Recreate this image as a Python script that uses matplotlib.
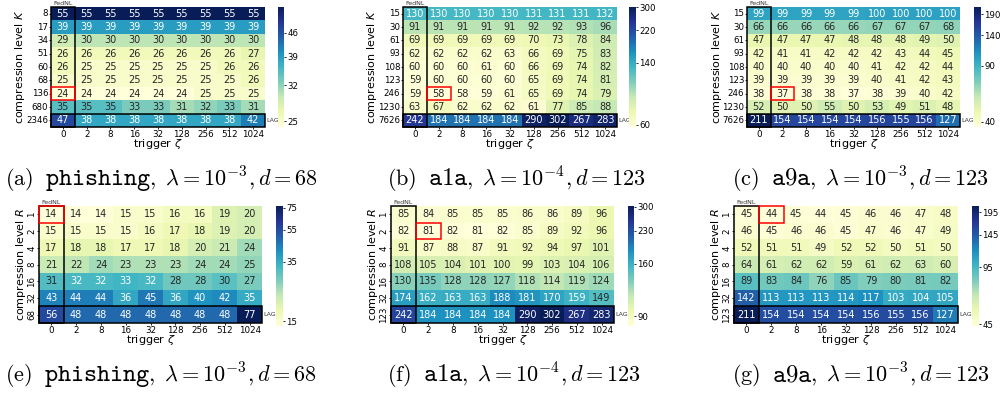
import numpy as np
import matplotlib
matplotlib.use("Agg")
import matplotlib.pyplot as plt
from matplotlib.colors import LogNorm
from matplotlib.patches import Rectangle
from matplotlib.ticker import FixedLocator, FixedFormatter, NullLocator
import seaborn as sns

triggers = ['0', '2', '8', '16', '32', '128', '256', '512', '1024']

K_a = ['8', '17', '34', '51', '60', '68', '136', '680', '2346']
vals_a = [
    [55, 55, 55, 55, 55, 55, 55, 55, 55],
    [39, 39, 39, 39, 39, 39, 39, 39, 39],
    [29, 30, 30, 30, 30, 30, 30, 30, 30],
    [26, 26, 26, 26, 26, 26, 26, 26, 27],
    [26, 25, 25, 25, 25, 25, 25, 26, 26],
    [25, 25, 25, 25, 25, 25, 25, 25, 26],
    [24, 24, 24, 24, 24, 24, 25, 25, 25],
    [35, 35, 35, 33, 33, 31, 32, 33, 31],
    [47, 38, 38, 38, 38, 38, 38, 38, 42],
]
cb_a = [25, 32, 39, 46]

K_b = ['15', '30', '61', '93', '108', '123', '246', '1230', '7626']
vals_b = [
    [130, 130, 130, 130, 130, 131, 131, 131, 132],
    [91, 91, 91, 91, 91, 92, 92, 93, 96],
    [69, 69, 69, 69, 69, 70, 73, 78, 84],
    [62, 62, 62, 62, 63, 66, 69, 75, 83],
    [60, 60, 60, 61, 60, 66, 69, 74, 82],
    [59, 60, 60, 60, 60, 65, 69, 74, 81],
    [59, 58, 58, 59, 61, 65, 69, 74, 79],
    [63, 67, 62, 62, 62, 61, 77, 85, 88],
    [242, 184, 184, 184, 184, 290, 302, 267, 283],
]
cb_b = [60, 140, 220, 300]

K_c = ['15', '30', '61', '93', '108', '123', '246', '1230', '7626']
vals_c = [
    [99, 99, 99, 99, 99, 100, 100, 100, 100],
    [66, 66, 66, 66, 66, 67, 67, 67, 68],
    [47, 47, 47, 47, 48, 48, 48, 49, 50],
    [42, 41, 41, 42, 42, 42, 43, 44, 45],
    [40, 40, 40, 40, 40, 41, 42, 42, 44],
    [39, 39, 39, 39, 39, 40, 41, 42, 43],
    [38, 37, 38, 38, 37, 38, 39, 40, 42],
    [52, 50, 50, 55, 50, 53, 49, 51, 48],
    [211, 154, 154, 154, 154, 156, 155, 156, 127],
]
cb_c = [40, 90, 140, 190]

R_e = ['1', '2', '4', '8', '16', '32', '68']
vals_e = [
    [14, 14, 14, 15, 15, 16, 16, 19, 20],
    [15, 15, 15, 15, 16, 17, 18, 19, 20],
    [17, 18, 18, 17, 17, 18, 20, 21, 24],
    [21, 22, 24, 23, 23, 23, 24, 24, 25],
    [31, 32, 32, 33, 32, 28, 28, 30, 27],
    [43, 44, 44, 36, 45, 36, 40, 42, 35],
    [56, 48, 48, 48, 48, 48, 48, 48, 77],
]
cb_e = [15, 35, 55, 75]

R_f = ['1', '2', '4', '8', '16', '32', '123']
vals_f = [
    [85, 84, 85, 85, 85, 86, 86, 89, 96],
    [82, 81, 82, 81, 82, 85, 89, 92, 96],
    [91, 87, 88, 87, 91, 92, 94, 97, 101],
    [108, 105, 104, 101, 100, 99, 103, 104, 106],
    [130, 135, 128, 128, 127, 118, 114, 119, 124],
    [174, 162, 163, 163, 188, 181, 170, 159, 149],
    [242, 184, 184, 184, 184, 290, 302, 267, 283],
]
cb_f = [90, 160, 230, 300]

R_g = ['1', '2', '4', '8', '16', '32', '123']
vals_g = [
    [45, 44, 45, 44, 45, 46, 46, 47, 48],
    [46, 45, 46, 46, 45, 47, 46, 47, 49],
    [52, 51, 51, 49, 52, 52, 50, 51, 50],
    [64, 61, 62, 62, 59, 61, 62, 63, 60],
    [89, 83, 84, 76, 85, 79, 80, 81, 82],
    [142, 113, 113, 113, 114, 117, 103, 104, 105],
    [211, 154, 154, 154, 154, 156, 155, 156, 127],
]
cb_g = [45, 95, 145, 195]

cap_letters = ['(a)', '(b)', '(c)', '(e)', '(f)', '(g)']
cap_data = ['phishing', 'a1a', 'a9a', 'phishing', 'a1a', 'a9a']
cap_rest = [
    r"$,\ \lambda = 10^{-3}, d = 68$",
    r"$,\ \lambda = 10^{-4}, d = 123$",
    r"$,\ \lambda = 10^{-3}, d = 123$",
    r"$,\ \lambda = 10^{-3}, d = 68$",
    r"$,\ \lambda = 10^{-4}, d = 123$",
    r"$,\ \lambda = 10^{-3}, d = 123$",
]

W, H = 1000, 396
fig = plt.figure(figsize=(W / 100, H / 100), dpi=100)
renderer = fig.canvas.get_renderer()


def frac(x0, x1, y0, y1):
    return [x0 / W, 1 - y1 / H, (x1 - x0) / W, (y1 - y0) / H]


panels = [
    (vals_a, K_a, cb_a, r"compression level $K$", False, (51, 265, 7, 127), (278, 284, 7, 127), 20),
    (vals_b, K_b, cb_b, r"compression level $K$", False, (403, 617, 7, 127), (629, 636, 7, 127), 372),
    (vals_c, K_c, cb_c, r"compression level $K$", False, (747, 960, 7, 127), (974, 981, 7, 127), 717),
    (vals_e, R_e, cb_e, r"compression level $R$", True, (39, 262, 206, 323), (276, 283, 206, 326), 21),
    (vals_f, R_f, cb_f, r"compression level $R$", True, (391, 614, 206, 323), (628, 634, 206, 326), 373),
    (vals_g, R_g, cb_g, r"compression level $R$", True, (734, 958, 206, 323), (972, 979, 206, 326), 716),
]
cap_pos = [(5, 185), (387, 185), (732, 185), (5, 381), (387, 381), (732, 381)]

for idx, (vals, ylabels, cbt, ylab, rot, axp, cbp, ylx_px) in enumerate(panels):
    data = np.array(vals, dtype=float)
    ax = fig.add_axes(frac(*axp))
    cax = fig.add_axes(frac(*cbp))
    norm = LogNorm(vmin=data.min(), vmax=data.max())
    sns.heatmap(data, ax=ax, cbar_ax=cax, cmap="YlGnBu", norm=norm,
                annot=True, fmt=".0f", annot_kws={"fontsize": 7},
                xticklabels=triggers, yticklabels=ylabels)
    n, m = data.shape
    axw = axp[1] - axp[0]
    axh = axp[3] - axp[2]
    ax.tick_params(axis='both', length=1.5, width=0.6, pad=0.6, labelsize=6.3)
    ax.set_yticklabels(ylabels, rotation=90 if rot else 0, va='center', fontsize=6.2)
    ax.set_xticklabels(triggers, rotation=0, fontsize=6.3)
    ax.set_xlabel(r"trigger $\zeta$", fontsize=8)
    ax.set_ylabel(ylab, fontsize=8)
    ax.yaxis.label.set_va('center')
    ax.xaxis.label.set_va('center')
    ax.yaxis.set_label_coords((ylx_px - axp[0]) / axw, 0.5)
    ax.xaxis.set_label_coords(0.5, -17.0 / axh)
    # highlight boxes
    ax.add_patch(Rectangle((0, 0), 1, n, fill=False, ec='black', lw=1.1, clip_on=False))
    ax.add_patch(Rectangle((0, n - 1), m, 1, fill=False, ec='black', lw=1.1, clip_on=False))
    bi, bj = np.unravel_index(np.argmin(data), data.shape)
    ax.add_patch(Rectangle((bj, bi), 1, 1, fill=False, ec='red', lw=1.1, clip_on=False, zorder=5))
    ax.text(0.5, -0.08, "FedNL", ha='center', va='bottom', fontsize=4.5, color='#333333')
    ax.text(m + 0.05, n - 0.5, "LAG", ha='left', va='center', fontsize=4.5, color='#333333')
    # colorbar
    cax.yaxis.set_minor_locator(NullLocator())
    cax.yaxis.set_major_locator(FixedLocator(cbt))
    cax.yaxis.set_major_formatter(FixedFormatter([str(t) for t in cbt]))
    cax.tick_params(axis='y', length=1.5, width=0.6, pad=0.8, labelsize=6.2)
    cax.yaxis.set_minor_locator(NullLocator())
    # caption built from pieces
    cx, cy = cap_pos[idx]
    pieces = [(r"$\mathrm{" + cap_letters[idx] + "}$", 16, 12),
              (r"$\mathtt{" + cap_data[idx] + "}$", 18, -3),
              (cap_rest[idx], 16, 0)]
    x = cx
    for s, fs, gap in pieces:
        t = fig.text(x / W, 1 - cy / H, s, ha='left', va='baseline',
                     fontsize=fs, math_fontfamily='cm')
        bb = t.get_window_extent(renderer)
        x += bb.width + gap

fig.savefig("out.png", dpi=100)
